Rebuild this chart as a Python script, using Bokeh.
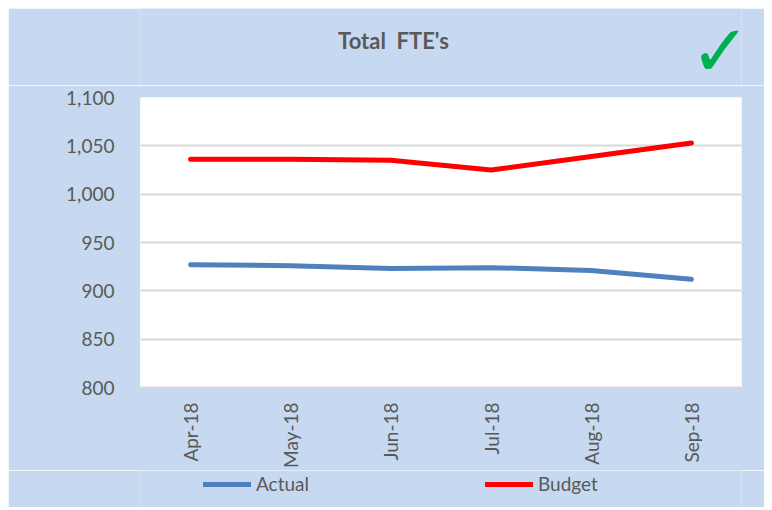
import math
from bokeh.plotting import figure
from bokeh.layouts import column
from bokeh.models import Label, Legend, LegendItem, NumeralTickFormatter, FixedTicker, Range1d
from bokeh.embed import file_html
from bokeh.resources import INLINE

months = ["Apr-18", "May-18", "Jun-18", "Jul-18", "Aug-18", "Sep-18"]
actual = [927, 926, 923, 924, 921, 912]
budget = [1036, 1036, 1035, 1025, 1039, 1053]
y_ticks = [800, 850, 900, 950, 1000, 1050, 1100]
series_names = ["Actual", "Budget"]

FONT = "Lato"
TXT = "#595959"
BG = "#C6D9F0"
BLUE = "#4F81BD"
RED = "#FF0000"
W = 756


def blank(height):
    f = figure(width=W, height=height, x_range=Range1d(0, 1), y_range=Range1d(0, 1),
               x_axis_type=None, y_axis_type=None, output_backend="svg",
               toolbar_location=None, min_border=0)
    f.border_fill_color = BG
    f.background_fill_color = BG
    f.outline_line_color = None
    f.grid.visible = False
    return f


# header: title + check mark (frame aligned with the main chart frame)
head = blank(77)
head.add_layout(Label(x=253, y=45, x_units="screen", y_units="screen", text="Total\u00a0 FTE's",
                      text_font=FONT, text_font_style="bold", text_font_size="22px",
                      text_color=TXT, text_align="center", text_baseline="middle"))
head.add_layout(Label(x=580, y=35, x_units="screen", y_units="screen", text="\u2713",
                      text_font="DejaVu Sans", text_font_size="72px", text_font_style="bold",
                      text_color="#00B050", text_align="center", text_baseline="middle"))

# main chart
p = figure(x_range=months, y_range=Range1d(800, 1100),
           frame_width=601, frame_height=290,
           output_backend="svg", toolbar_location=None,
           min_border_left=132, min_border_right=23, min_border_top=12, min_border_bottom=82)
p.border_fill_color = BG
p.background_fill_color = "white"
p.outline_line_color = None

p.yaxis.ticker = FixedTicker(ticks=y_ticks)
p.yaxis.formatter = NumeralTickFormatter(format="0,0")
p.yaxis.axis_line_color = None
p.yaxis.major_tick_line_color = None
p.yaxis.minor_tick_line_color = None
p.yaxis.major_label_text_font = FONT
p.yaxis.major_label_text_font_size = "19px"
p.yaxis.major_label_text_color = TXT
p.yaxis.major_label_standoff = 20

p.xaxis.axis_line_color = "#D9D9D9"
p.xaxis.axis_line_width = 2
p.xaxis.major_tick_line_color = None
p.xaxis.major_tick_out = 0
p.xaxis.major_tick_in = 0
p.xaxis.major_label_orientation = math.pi / 2
p.xaxis.major_label_text_font = FONT
p.xaxis.major_label_text_font_size = "19px"
p.xaxis.major_label_text_color = TXT
p.xaxis.major_label_standoff = 15

p.xgrid.grid_line_color = None
p.ygrid.grid_line_color = "#D9D9D9"
p.ygrid.grid_line_width = 2
p.ygrid.ticker = FixedTicker(ticks=y_ticks)

p.line(months, actual, line_color=BLUE, line_width=5, line_cap="round", line_join="round")
p.line(months, budget, line_color=RED, line_width=5, line_cap="round", line_join="round")

# legend strip (series drawn out of its visible range so only the legend shows)
leg = blank(37)
idx = list(range(len(months)))
l1 = leg.line(idx, actual, line_color=BLUE, line_width=5, line_cap="round")
l2 = leg.line(idx, budget, line_color=RED, line_width=5, line_cap="round")
legend = Legend(items=[LegendItem(label=series_names[0], renderers=[l1]),
                       LegendItem(label=series_names[1], renderers=[l2])],
                location=(63, 12), orientation="horizontal",
                background_fill_alpha=0, border_line_color=None,
                label_text_font=FONT, label_text_font_size="19px", label_text_color=TXT,
                glyph_width=48, label_standoff=5, spacing=176, padding=0, margin=0)
leg.add_layout(legend, "center")

layout = column(head, p, leg, spacing=0)
layout.margin = (8, 0, 0, 8)

open("out.html", "w").write(file_html(layout, INLINE))
